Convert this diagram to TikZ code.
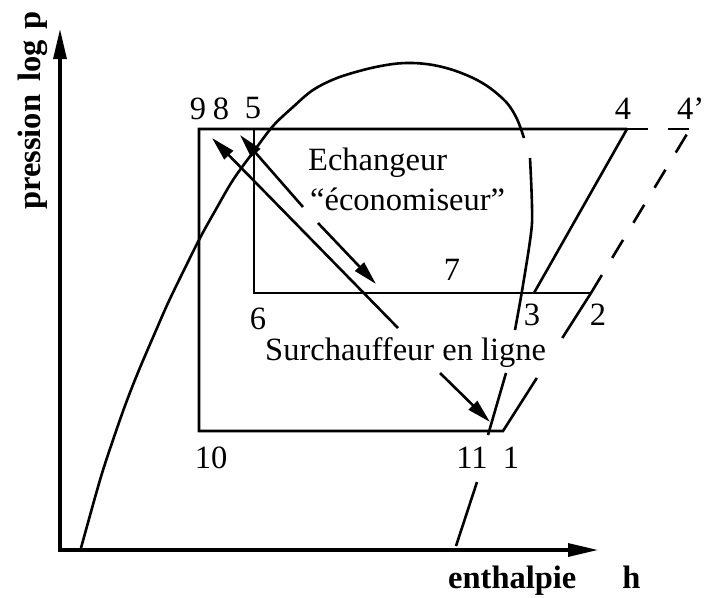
\documentclass[tikz,border=0pt]{standalone}
\usepackage{fontspec}
\setmainfont{Liberation Serif}
\usetikzlibrary{arrows.meta}
\begin{document}
\begin{tikzpicture}[x=1pt,y=-1pt,
  lbl/.style={font=\fontsize{32.5}{39}\selectfont, inner sep=0pt},
  boldlbl/.style={font=\fontsize{32.5}{39}\selectfont\bfseries, inner sep=0pt},
  ln/.style={line width=2.6pt},
  axisline/.style={line width=3.2pt, {Triangle[length=30pt,width=13pt]}-{Triangle[length=30pt,width=13pt]}},
  ptr/.style={line width=2.6pt, -{Triangle[length=24pt,width=12pt]}},
  crv/.style={line width=2.6pt, line join=round, line cap=butt},
  dashln/.style={line width=2.6pt, dash pattern=on 21pt off 20pt}]
\fill[white] (0,0) rectangle (706,597);
\path[use as bounding box] (0,0) rectangle (706,597);

% axes
\coordinate (O) at (60,550);
\coordinate (ytip) at (60,29);
\coordinate (xtip) at (598,550);
\draw[axisline] (ytip) -- (O) -- (xtip);
\node[boldlbl, rotate=90, anchor=base west] (ylab) at (40,210) {pression\hspace{13pt}log\hspace{11pt}p};
\node[boldlbl, anchor=base west] (xlab) at (448,588) {enthalpie\hspace{46pt}h};

% cycle points
\coordinate (p9) at (199,129);
\coordinate (p5) at (254,129);
\coordinate (p4) at (627,129);
\coordinate (p4p) at (690,129);
\coordinate (p6) at (254,293);
\coordinate (p3) at (534,293);
\coordinate (p2) at (591,293);
\coordinate (p10) at (199,431);
\coordinate (p1) at (503,431);
\coordinate (g1) at (536.8,378);
\coordinate (g2) at (562.3,338);

\draw[ln] (p4) -- (p9) -- (p10) -- (p1) -- (g1);
\draw[ln] (g2) -- (p2);
\draw[ln] (p5) -- (p6) -- (p2);
\draw[ln] (p4) -- (p3);
\draw[dashln] (p4) -- (p4p);
\draw[dashln] (p2) -- (p4p);

% saturation curve
\draw[crv] plot[smooth, tension=0.55] coordinates {(81,548) (100,480) (113,440) (126,403) (139,370) (154,335) (168,303) (184,270) (200,238) (215,211) (233,180) (254,151) (273,126) (293,107) (313,90) (337,78) (367,69) (393,64) (413,63) (433,65) (453,70) (473,78) (490,88) (507,103) (517,119) (524,138)};
\draw[crv] plot[smooth, tension=0.4] coordinates {(530,158) (532,223) (523,285) (515,330)};
\coordinate (c1) at (506,373);
\coordinate (c2) at (488,435);
\coordinate (c3) at (477,482);
\coordinate (c4) at (456,546);
\draw[crv] (c1) -- (c2);
\draw[crv] (c3) -- (c4);

% labels
\node[lbl] (l9) at (198,108.5) {9};
\node[lbl] (l8) at (221,108.5) {8};
\node[lbl] (l5) at (253,108.5) {5};
\node[lbl] (l4) at (623,108.5) {4};
\node[lbl, anchor=west] (l4p) at (677,108.5) {4’};
\node[lbl] (l7) at (452,270) {7};
\node[lbl] (l6) at (258,319) {6};
\node[lbl] (l3) at (532,315) {3};
\node[lbl] (l2) at (598,315) {2};
\node[lbl] (l10) at (211,458) {10};
\node[lbl] (l11) at (472,458) {11};
\node[lbl] (l1) at (511,458) {1};

\node[lbl, anchor=base west] (ech) at (308,170) {Echangeur};
\node[lbl, anchor=base west] (eco) at (310,210) {“économiseur”};
\node[lbl, anchor=base west] (sur) at (265,360) {Surchauffeur en ligne};

% pointer arrows
\coordinate (a1s) at (398,328); \coordinate (a1e) at (212,138);
\coordinate (a2s) at (303,207); \coordinate (a2e) at (240,135);
\coordinate (a3s) at (318,223); \coordinate (a3e) at (376,284);
\coordinate (a4s) at (440,373); \coordinate (a4e) at (490,422);
\draw[ptr] (a1s) -- (a1e);
\draw[ptr] (a2s) -- (a2e);
\draw[ptr] (a3s) -- (a3e);
\draw[ptr] (a4s) -- (a4e);
\end{tikzpicture}
\end{document}
